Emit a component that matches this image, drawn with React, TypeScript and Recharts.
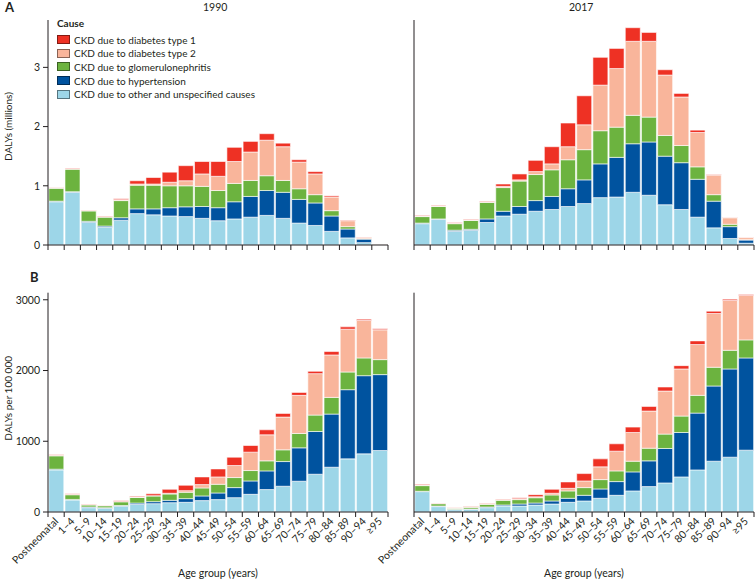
import React from "react";
import { BarChart, Bar, XAxis, YAxis, Legend, Label } from "recharts";

const ageGroups = [
  "Postneonatal", "1–4", "5–9", "10–14", "15–19", "20–24", "25–29", "30–34", "35–39", "40–44",
  "45–49", "50–54", "55–59", "60–64", "65–69", "70–74", "75–79", "80–84", "85–89", "90–94", "≥95",
];

// A – DALYs (millions), 1990
const a1990Other = [0.73, 0.89, 0.38, 0.3, 0.42, 0.53, 0.51, 0.49, 0.48, 0.45, 0.41, 0.44, 0.47, 0.5, 0.45, 0.37, 0.33, 0.23, 0.12, 0.04, 0.006];
const a1990Hyp = [0.01, 0.01, 0.02, 0.02, 0.04, 0.08, 0.1, 0.14, 0.165, 0.2, 0.22, 0.29, 0.35, 0.42, 0.44, 0.4, 0.38, 0.26, 0.15, 0.06, 0.006];
const a1990Glom = [0.22, 0.38, 0.175, 0.15, 0.29, 0.4, 0.4, 0.37, 0.355, 0.34, 0.29, 0.31, 0.27, 0.25, 0.2, 0.18, 0.14, 0.09, 0.04, 0.007, 0.001];
const a1990Dm2 = [0.005, 0.01, 0.01, 0.01, 0.015, 0.02, 0.02, 0.06, 0.085, 0.21, 0.24, 0.37, 0.48, 0.6, 0.57, 0.45, 0.35, 0.23, 0.1, 0.023, 0.002];
const a1990Dm1 = [0.005, 0.01, 0.005, 0.01, 0.015, 0.055, 0.11, 0.17, 0.255, 0.21, 0.25, 0.24, 0.18, 0.11, 0.06, 0.04, 0.04, 0.02, 0.01, 0.005, 0.001];

// A – DALYs (millions), 2017
const a2017Other = [0.36, 0.43, 0.23, 0.245, 0.38, 0.49, 0.52, 0.57, 0.6, 0.65, 0.7, 0.8, 0.81, 0.89, 0.84, 0.68, 0.6, 0.47, 0.29, 0.11, 0.03];
const a2017Hyp = [0.01, 0.01, 0.02, 0.02, 0.06, 0.08, 0.13, 0.18, 0.22, 0.3, 0.4, 0.57, 0.67, 0.82, 0.9, 0.82, 0.79, 0.64, 0.45, 0.2, 0.055];
const a2017Glom = [0.11, 0.21, 0.11, 0.15, 0.28, 0.4, 0.43, 0.44, 0.45, 0.49, 0.51, 0.56, 0.51, 0.48, 0.42, 0.35, 0.29, 0.21, 0.11, 0.04, 0.005];
const a2017Dm2 = [0.01, 0.01, 0.01, 0.01, 0.01, 0.02, 0.02, 0.05, 0.1, 0.22, 0.42, 0.77, 0.99, 1.25, 1.28, 1.02, 0.82, 0.58, 0.33, 0.11, 0.035];
const a2017Dm1 = [0.01, 0.01, 0.01, 0.01, 0.01, 0.04, 0.1, 0.19, 0.29, 0.4, 0.49, 0.47, 0.34, 0.23, 0.15, 0.09, 0.06, 0.04, 0.01, 0.005, 0.005];

// B – DALYs per 100 000, 1990
const b1990Other = [595, 170, 61, 50, 80, 106, 118, 132, 137, 161, 175, 203, 250, 317, 364, 435, 534, 633, 751, 822, 869];
const b1990Hyp = [10, 8, 10, 10, 12, 20, 28, 33, 52, 66, 94, 142, 189, 264, 349, 472, 604, 751, 978, 1105, 1073];
const b1990Glom = [189, 66, 28, 28, 52, 80, 81, 90, 90, 113, 123, 142, 147, 142, 166, 203, 232, 236, 250, 251, 212];
const b1990Dm2 = [7, 7, 7, 4, 6, 6, 4, 10, 23, 47, 104, 170, 260, 368, 463, 539, 586, 600, 605, 529, 421];
const b1990Dm1 = [7, 7, 6, 4, 8, 10, 26, 56, 76, 109, 113, 118, 94, 71, 52, 42, 33, 48, 33, 19, 14];

// B – DALYs per 100 000, 2017
const b2017Other = [288, 76, 33, 38, 61, 85, 85, 99, 113, 137, 156, 194, 236, 298, 359, 411, 496, 595, 718, 775, 874];
const b2017Hyp = [5, 8, 5, 5, 10, 14, 28, 28, 43, 57, 80, 132, 194, 269, 364, 487, 628, 803, 1063, 1247, 1304];
const b2017Glom = [80, 33, 14, 24, 38, 66, 62, 75, 85, 104, 109, 132, 151, 151, 179, 203, 232, 251, 265, 264, 255];
const b2017Dm2 = [10, 5, 7, 7, 7, 10, 14, 14, 24, 37, 94, 180, 279, 406, 525, 609, 666, 718, 760, 704, 628];
const b2017Dm1 = [9, 5, 6, 6, 7, 9, 14, 29, 56, 90, 104, 113, 104, 76, 66, 57, 47, 52, 33, 19, 14];

const causes = [
  { key: "other", name: "CKD due to other and unspecified causes", color: "#9dd6e8" },
  { key: "hyp", name: "CKD due to hypertension", color: "#00539f" },
  { key: "glom", name: "CKD due to glomerulonephritis", color: "#6cb33f" },
  { key: "dm2", name: "CKD due to diabetes type 2", color: "#f9b59b" },
  { key: "dm1", name: "CKD due to diabetes type 1", color: "#ee3124" },
];

const build = (other: number[], hyp: number[], glom: number[], dm2: number[], dm1: number[]) =>
  ageGroups.map((age, i) => ({ age, other: other[i], hyp: hyp[i], glom: glom[i], dm2: dm2[i], dm1: dm1[i] }));

const a1990 = build(a1990Other, a1990Hyp, a1990Glom, a1990Dm2, a1990Dm1);
const a2017 = build(a2017Other, a2017Hyp, a2017Glom, a2017Dm2, a2017Dm1);
const b1990 = build(b1990Other, b1990Hyp, b1990Glom, b1990Dm2, b1990Dm1);
const b2017 = build(b2017Other, b2017Hyp, b2017Glom, b2017Dm2, b2017Dm1);

const FONT = "Lato, 'Open Sans', sans-serif";
const INK = "#231f20";
const PLOT_W = 340;
const BAND = PLOT_W / ageGroups.length;

// tick marks sit on the category boundaries, labels (panel B only) under the centre
const AgeTick = (props: any) => {
  const { x, y, payload, showLabel } = props;
  const i = payload.index;
  const last = i === ageGroups.length - 1;
  return (
    <g>
      <line x1={x - BAND / 2} x2={x - BAND / 2} y1={y} y2={y + 5} stroke={INK} />
      {last && <line x1={x + BAND / 2} x2={x + BAND / 2} y1={y} y2={y + 5} stroke={INK} />}
      {showLabel && (
        <text
          x={x + 3}
          y={y + 10}
          transform={`rotate(-45, ${x + 3}, ${y + 10})`}
          textAnchor="end"
          fontSize={10.5}
          fill={INK}
          fontFamily={FONT}
        >
          {payload.value}
        </text>
      )}
    </g>
  );
};

const CauseLegend = () => (
  <div style={{ fontFamily: FONT, color: INK, fontSize: 10 }}>
    <div style={{ fontWeight: 700, marginBottom: 4 }}>Cause</div>
    {[...causes].reverse().map((c) => (
      <div key={c.key} style={{ display: "flex", alignItems: "center", height: 13.6 }}>
        <span
          style={{
            display: "inline-block",
            width: 11,
            height: 7,
            background: c.color,
            border: "1px solid rgba(0,0,0,0.45)",
            marginRight: 4,
          }}
        />
        <span>{c.name}</span>
      </div>
    ))}
  </div>
);

const bars = () =>
  causes.map((c) => (
    <Bar key={c.key} dataKey={c.key} name={c.name} stackId="s" fill={c.color} stroke="#fff" strokeWidth={0.6} isAnimationActive={false} />
  ));

type PanelProps = {
  data: any[];
  left: boolean;
  domainMax: number;
  ticks: number[];
  yLabel?: string;
  labelShift?: number;
  isB: boolean;
  legend?: boolean;
};

const Panel = ({ data, left, domainMax, ticks, yLabel, labelShift = 0, isB, legend }: PanelProps) => {
  const axisW = left ? 48 : 74;
  const width = axisW + PLOT_W + 1;
  const height = isB ? 309 : 265;
  return (
    <BarChart
      width={width}
      height={height}
      data={data}
      margin={{ top: isB ? 22.7 : 20, right: 1, left: 0, bottom: 0 }}
      barCategoryGap={0.8}
    >
      <XAxis
        dataKey="age"
        interval={0}
        height={isB ? 67 : 20}
        tickSize={0}
        tickMargin={0}
        tickLine={false}
        axisLine={{ stroke: INK }}
        tick={<AgeTick showLabel={isB} />}
      >
        {isB && (
          <Label value="Age group (years)" position="insideBottom" offset={2} style={{ fontSize: 10.5, fill: INK, fontFamily: FONT }} />
        )}
      </XAxis>
      <YAxis
        width={axisW}
        domain={[0, domainMax]}
        ticks={ticks}
        interval={0}
        allowDataOverflow
        tickSize={5}
        tickMargin={3}
        axisLine={{ stroke: INK }}
        tickLine={{ stroke: INK }}
        tick={left ? { fontSize: 10.5, fill: INK, fontFamily: FONT } : false}
      >
        {yLabel && (
          <Label
            value={yLabel}
            angle={-90}
            position="insideLeft"
            offset={8}
            dy={-labelShift}
            style={{ textAnchor: "middle", fontSize: 10, fill: INK, fontFamily: FONT }}
          />
        )}
      </YAxis>
      {legend && (
        <Legend
          layout="vertical"
          align="center"
          verticalAlign="middle"
          wrapperStyle={{ top: 17, left: 57, width: 220 }}
          content={() => <CauseLegend />}
        />
      )}
      {bars()}
    </BarChart>
  );
};

const textStyle: React.CSSProperties = { position: "absolute", fontFamily: FONT, color: INK, whiteSpace: "nowrap", lineHeight: 1 };

export default function App() {
  return (
    <div style={{ position: "absolute", left: 0, top: 0, width: 755, height: 579, background: "#fff", overflow: "hidden" }}>
      <div style={{ position: "absolute", left: 0, top: 0 }}>
        <Panel data={a1990} left domainMax={3.8} ticks={[0, 1, 2, 3]} yLabel="DALYs (millions)" labelShift={6} isB={false} legend />
      </div>
      <div style={{ position: "absolute", left: 340, top: 0 }}>
        <Panel data={a2017} left={false} domainMax={3.8} ticks={[0, 1, 2, 3]} isB={false} />
      </div>
      <div style={{ position: "absolute", left: 0, top: 270 }}>
        <Panel data={b1990} left domainMax={3100} ticks={[0, 1000, 2000, 3000]} yLabel="DALYs per 100 000" labelShift={4} isB />
      </div>
      <div style={{ position: "absolute", left: 340, top: 270 }}>
        <Panel data={b2017} left={false} domainMax={3100} ticks={[0, 1000, 2000, 3000]} isB />
      </div>

      <div style={{ ...textStyle, left: 5, top: 1, fontSize: 13, fontWeight: 700 }}>A</div>
      <div style={{ ...textStyle, left: 30, top: 271, fontSize: 13, fontWeight: 700 }}>B</div>
      <div style={{ ...textStyle, left: 203, top: 2, fontSize: 10.5 }}>1990</div>
      <div style={{ ...textStyle, left: 569, top: 2, fontSize: 10.5 }}>2017</div>
    </div>
  );
}
